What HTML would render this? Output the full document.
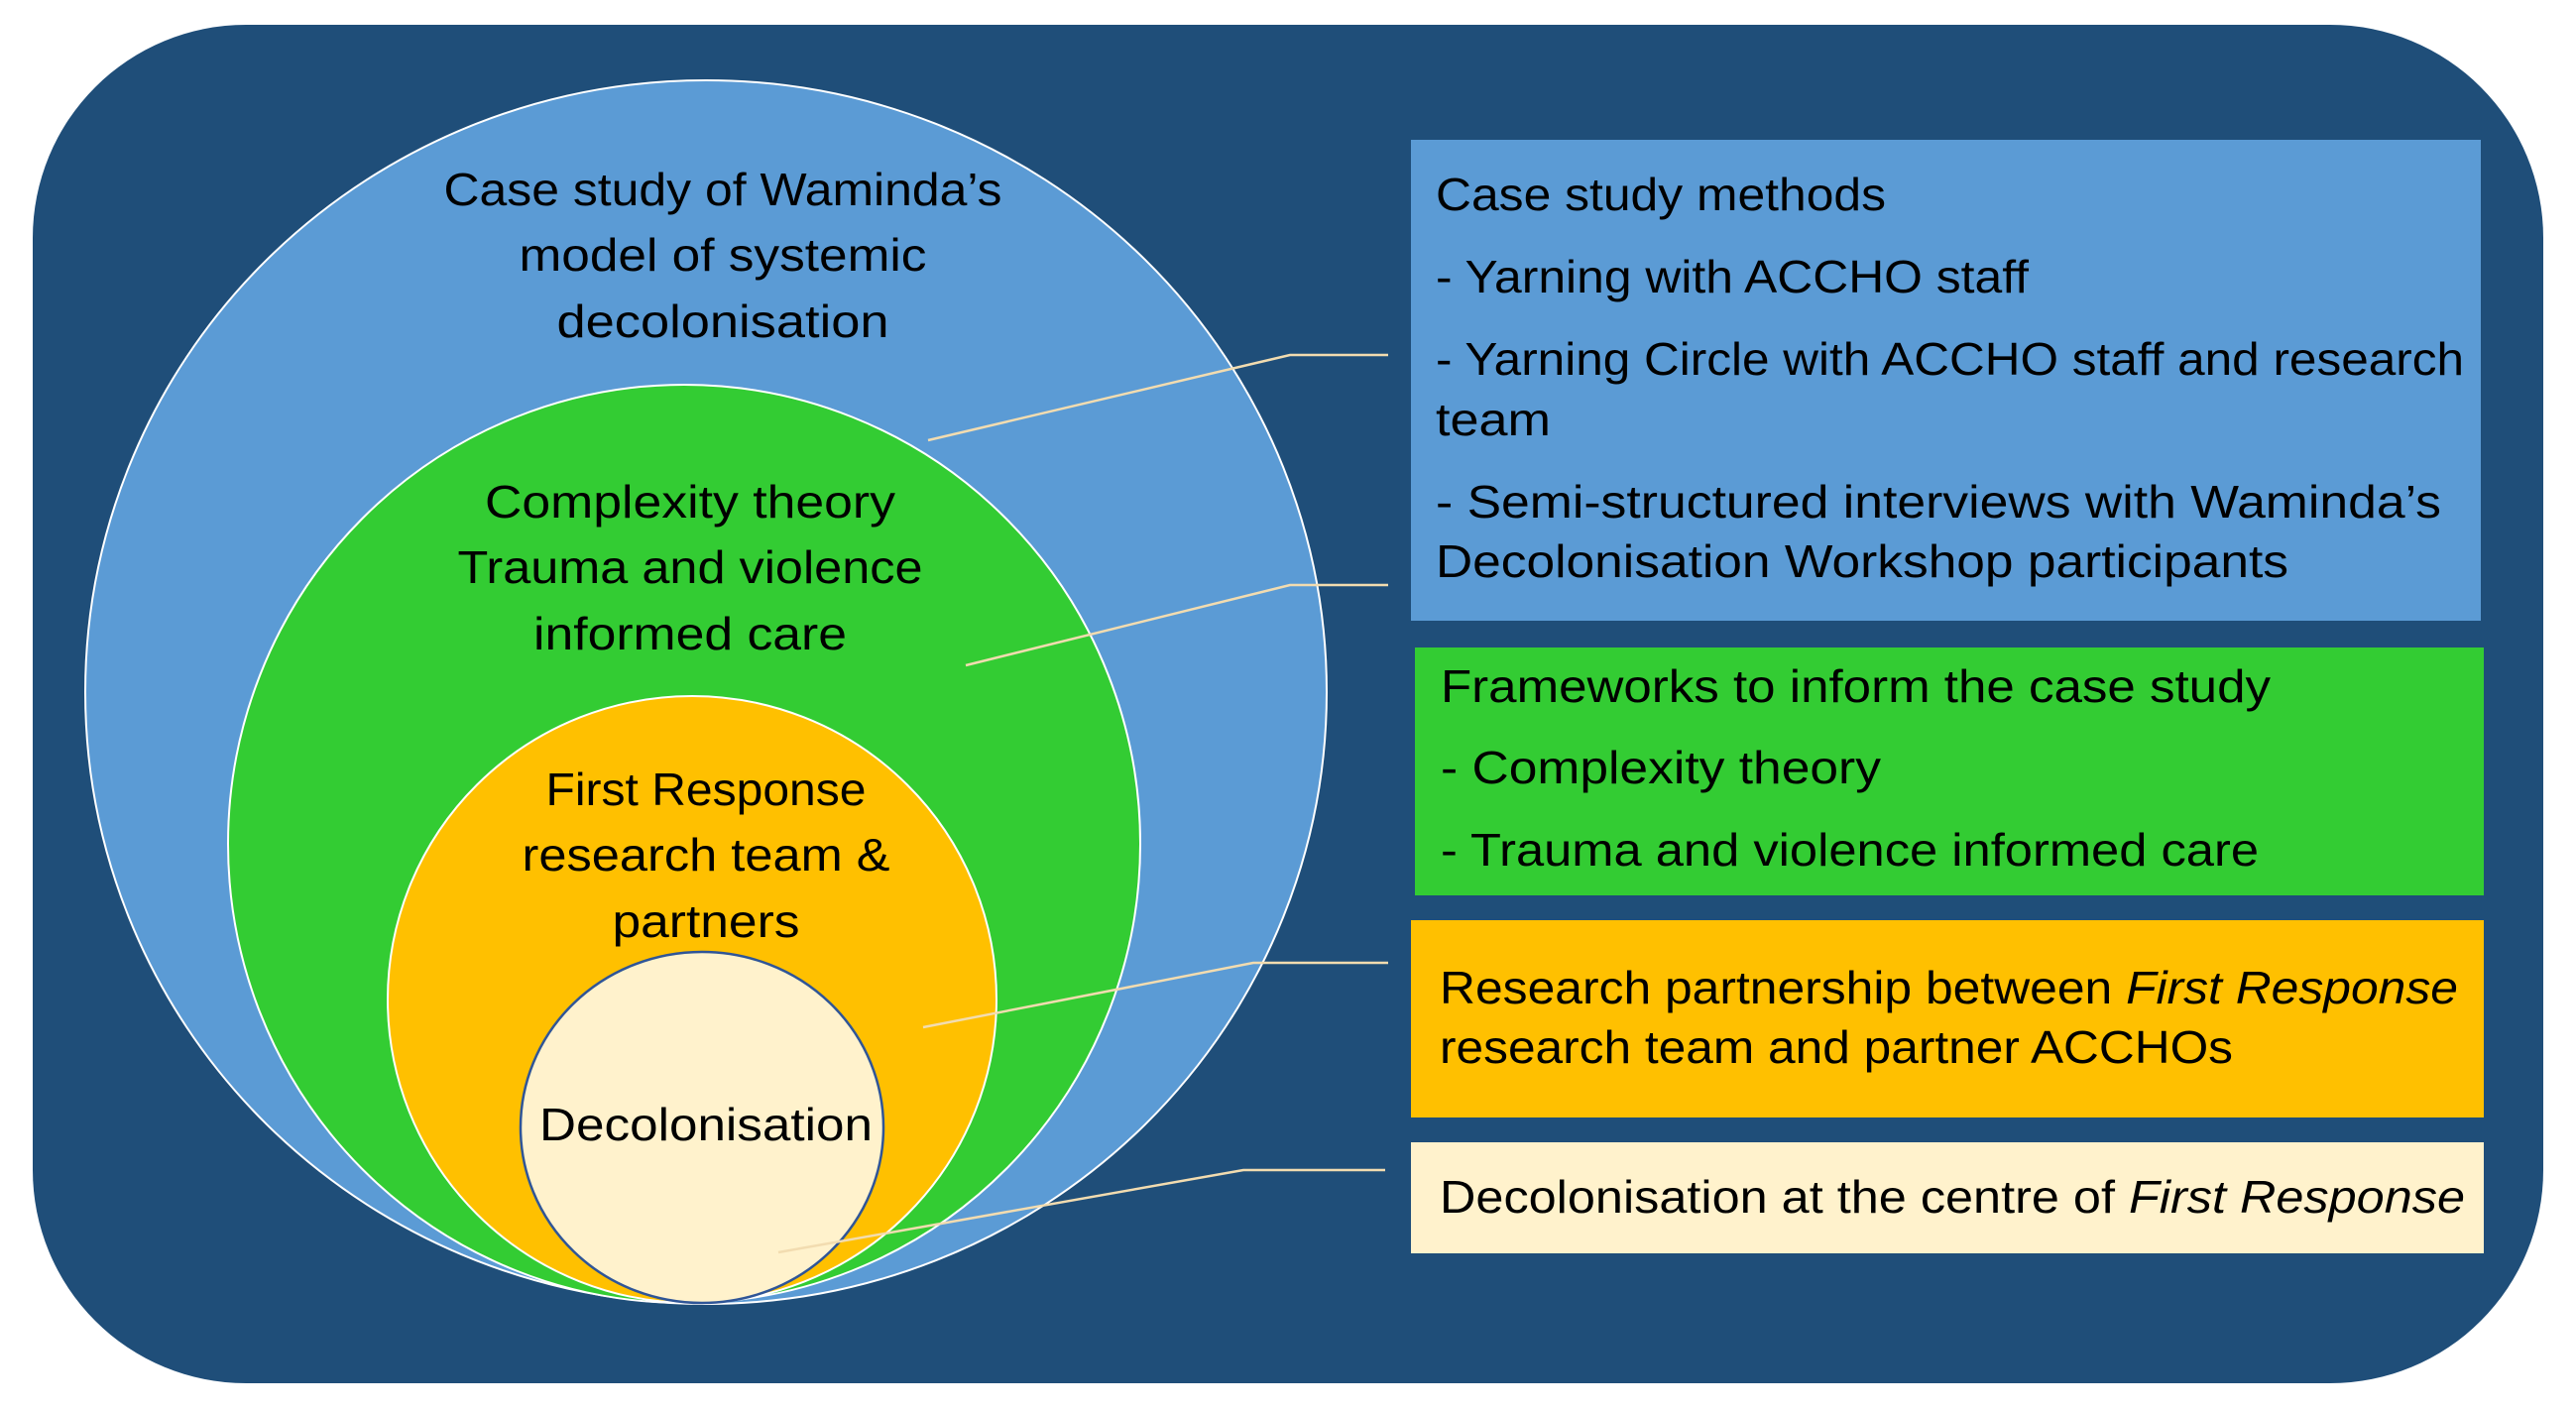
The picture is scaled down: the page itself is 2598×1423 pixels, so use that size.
<!DOCTYPE html>
<html><head><meta charset="utf-8"><style>
html,body{margin:0;padding:0;background:#fff;}
svg{display:block;}
text{font-family:"Liberation Sans",sans-serif;font-size:46px;fill:#000;}
</style></head><body>
<svg width="2598" height="1423" viewBox="0 0 2598 1423" xmlns="http://www.w3.org/2000/svg">
<rect x="33" y="25" width="2532" height="1370" rx="215" ry="215" fill="#1F4E79"/>
<ellipse cx="712" cy="698" rx="626" ry="617" fill="#5B9BD5" stroke="#fff" stroke-width="2"/>
<ellipse cx="690" cy="851" rx="460" ry="463" fill="#33CC33" stroke="#fff" stroke-width="2"/>
<ellipse cx="698" cy="1008" rx="307" ry="306" fill="#FFC000" stroke="#fff" stroke-width="2"/>
<ellipse cx="708" cy="1137" rx="183" ry="177" fill="#FFF2CC" stroke="#2F5597" stroke-width="2.5"/>

<rect x="1423" y="141" width="1079" height="485" fill="#5B9BD5"/>
<rect x="1427" y="653" width="1078" height="250" fill="#33CC33"/>
<rect x="1423" y="928" width="1082" height="199" fill="#FFC000"/>
<rect x="1423" y="1152" width="1082" height="112" fill="#FFF2CC"/>

<g stroke="#F2DCB0" stroke-width="2.5" fill="none">
<polyline points="936,444 1301,358 1400,358"/>
<polyline points="974,671 1301,590 1400,590"/>
<polyline points="931,1036 1264,971 1400,971"/>
<polyline points="785,1263 1254,1180 1397,1180"/>
</g>

<g text-anchor="middle" lengthAdjust="spacingAndGlyphs">
<text x="729" y="207" textLength="563" lengthAdjust="spacingAndGlyphs">Case study of Waminda’s</text>
<text x="729" y="273" textLength="411" lengthAdjust="spacingAndGlyphs">model of systemic</text>
<text x="729" y="340" textLength="335" lengthAdjust="spacingAndGlyphs">decolonisation</text>
<text x="696" y="522" textLength="414" lengthAdjust="spacingAndGlyphs">Complexity theory</text>
<text x="696" y="588" textLength="469" lengthAdjust="spacingAndGlyphs">Trauma and violence</text>
<text x="696" y="655" textLength="316" lengthAdjust="spacingAndGlyphs">informed care</text>
<text x="712" y="812" textLength="323" lengthAdjust="spacingAndGlyphs">First Response</text>
<text x="712" y="878" textLength="371" lengthAdjust="spacingAndGlyphs">research team &amp;</text>
<text x="712" y="945" textLength="189" lengthAdjust="spacingAndGlyphs">partners</text>
<text x="712" y="1150" textLength="336" lengthAdjust="spacingAndGlyphs">Decolonisation</text>
</g>

<text x="1448" y="212" textLength="454" lengthAdjust="spacingAndGlyphs">Case study methods</text>
<text x="1448" y="295" textLength="598" lengthAdjust="spacingAndGlyphs">- Yarning with ACCHO staff</text>
<text x="1448" y="378" textLength="1037" lengthAdjust="spacingAndGlyphs">- Yarning Circle with ACCHO staff and research</text>
<text x="1448" y="439" textLength="116" lengthAdjust="spacingAndGlyphs">team</text>
<text x="1448" y="522" textLength="1014" lengthAdjust="spacingAndGlyphs">- Semi-structured interviews with Waminda’s</text>
<text x="1448" y="582" textLength="860" lengthAdjust="spacingAndGlyphs">Decolonisation Workshop participants</text>

<text x="1453" y="708" textLength="837" lengthAdjust="spacingAndGlyphs">Frameworks to inform the case study</text>
<text x="1453" y="790" textLength="444" lengthAdjust="spacingAndGlyphs">- Complexity theory</text>
<text x="1453" y="873" textLength="825" lengthAdjust="spacingAndGlyphs">- Trauma and violence informed care</text>

<text x="1452" y="1012" textLength="1027" lengthAdjust="spacingAndGlyphs">Research partnership between <tspan font-style="italic">First Response</tspan></text>
<text x="1452" y="1072" textLength="800" lengthAdjust="spacingAndGlyphs">research team and partner ACCHOs</text>

<text x="1452" y="1223" textLength="1034" lengthAdjust="spacingAndGlyphs">Decolonisation at the centre of <tspan font-style="italic">First Response</tspan></text>
</svg>
</body></html>
